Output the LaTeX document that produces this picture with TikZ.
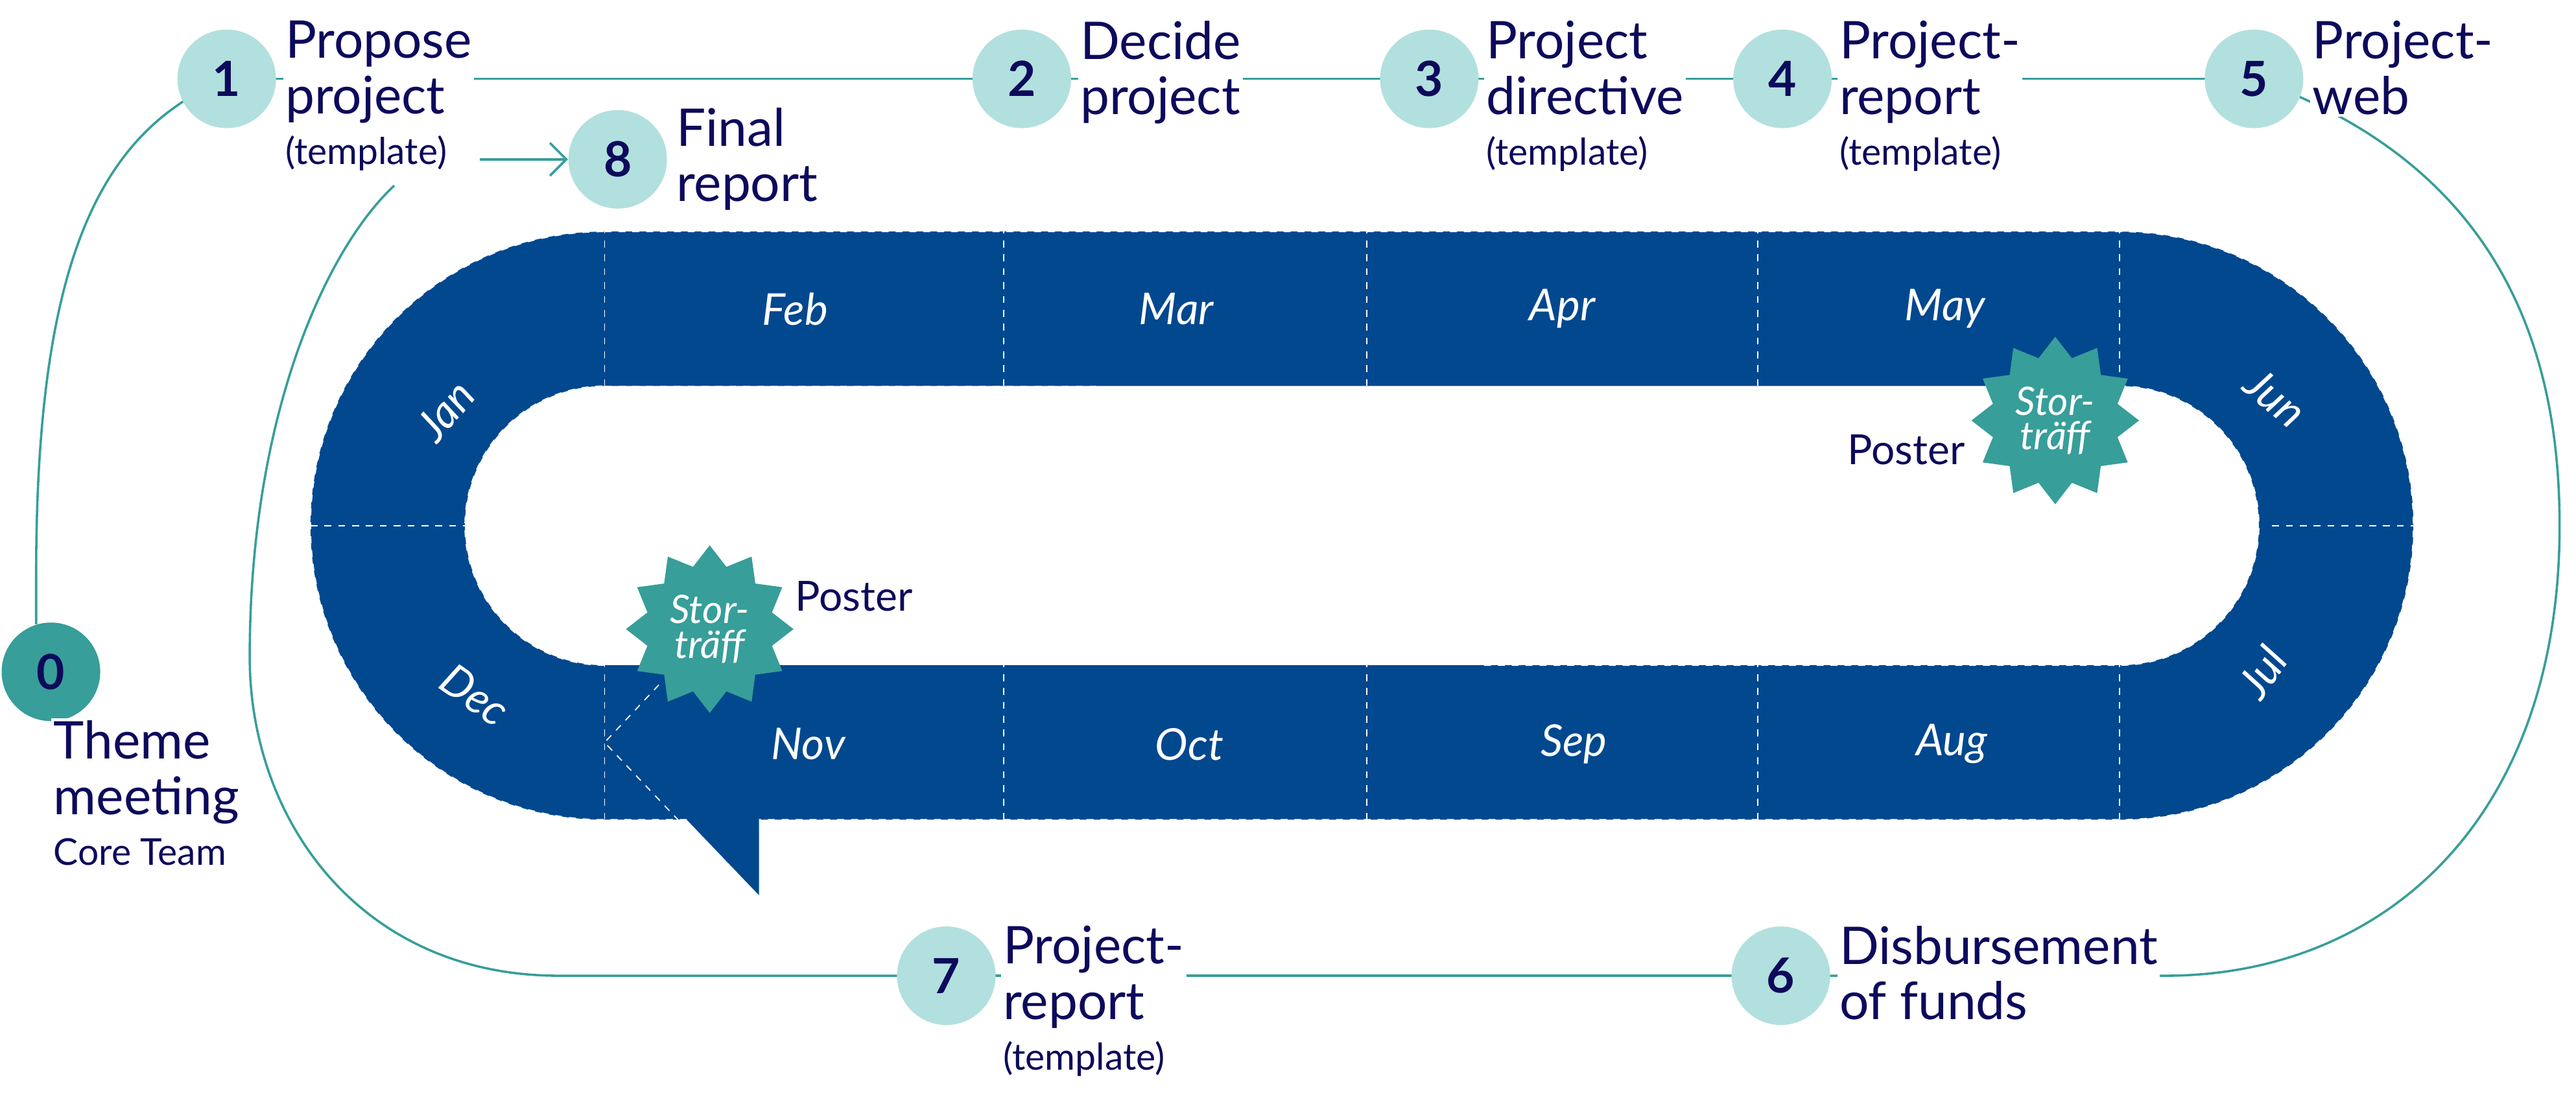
\documentclass[tikz,border=0pt]{standalone}
\usepackage{fontspec}
\setmainfont{Lato}
\usetikzlibrary{shapes.geometric,arrows.meta,backgrounds}
\definecolor{navy}{HTML}{01488F}
\definecolor{ink}{HTML}{0D0A5C}
\definecolor{teal}{HTML}{379E99}
\definecolor{lteal}{HTML}{B2E0DE}
\tikzset{
  stepnode/.style={circle,fill=lteal,minimum size=15mm,inner sep=0pt,text=ink,font=\fontsize{21}{21}\selectfont\bfseries},
  lbl/.style={anchor=north west,align=left,text=ink,fill=white,inner sep=1pt,font=\fontsize{22.5}{24}\selectfont},
  monthlbl/.style={text=white,font=\fontsize{19}{19}\selectfont\itshape},
  divider/.style={white,dashed,line width=0.5pt},
  cycleline/.style={teal,line width=1pt},
  burst/.style={star,star points=12,star point ratio=1.3,minimum size=25.5mm,fill=teal,text=white,align=center,inner sep=0pt,font=\fontsize{17}{17}\selectfont\itshape}
}
\newcommand\tmpl[1]{{\fontsize{16}{18}\selectfont #1}}
\begin{document}
\begin{tikzpicture}[x=0.25mm,y=0.25mm]
\useasboundingbox (0,0) rectangle (1568,680);

% steps
\node[stepnode] (c1) at (138,632) {1};
\node[stepnode] (c2) at (622,632) {2};
\node[stepnode] (c3) at (870,632) {3};
\node[stepnode] (c4) at (1085,632) {4};
\node[stepnode] (c5) at (1372,632) {5};
\node[stepnode] (c8) at (376,583) {8};
\node[stepnode] (c7) at (576,86) {7};
\node[stepnode] (c6) at (1084,86) {6};
\node[stepnode,fill=teal] (c0) at (31,271) {0};

\coordinate (l0) at (22,300);
\coordinate (l8) at (240,567);

% loop
\begin{scope}[on background layer]
\draw[cycleline] (l0) -- (22,330) .. controls (22,520) and (60,600) .. (c1.center);
\draw[cycleline] (c1.center) -- (c2.center) -- (c3.center) -- (c4.center) -- (c5.center);
\draw[cycleline] (c5.center) .. controls (1520,580) and (1558,470) .. (1558,360)
  .. controls (1558,180) and (1450,86) .. (1318,86) -- (c6.center);
\draw[cycleline] (c6.center) -- (c7.center);
\draw[cycleline] (c7.center) -- (340,86) .. controls (220,86) and (152,180) .. (152,280)
  .. controls (152,430) and (200,530) .. (l8);
\end{scope}

% track
\fill[navy,even odd rule] (368,539) -- (1290,539) arc[start angle=90,end angle=-90,radius=179]
  -- (462,181) -- (462,135) -- (418,181) -- (368,181) arc[start angle=270,end angle=90,radius=179] -- cycle
  (368,445) -- (1290,445) arc[start angle=90,end angle=-90,radius=85]
  -- (368,275) arc[start angle=270,end angle=90,radius=85] -- cycle;
\draw[divider] (368,539) -- (1290,539) arc[start angle=90,end angle=-90,radius=179] -- (462,181)
  (418,181) -- (368,181) arc[start angle=270,end angle=90,radius=179];
\draw[divider] (368,445) -- (670,445);
\draw[divider] (368,275) arc[start angle=270,end angle=90,radius=85];
\draw[divider] (1290,445) arc[start angle=90,end angle=-90,radius=85] -- (900,275);
\foreach \x in {368,611,832,1070,1290} {
  \draw[divider] (\x,445) -- (\x,539);
  \draw[divider] (\x,181) -- (\x,275);
}
\draw[divider] (189,360) -- (283,360);
\draw[divider] (1383,360) -- (1469,360);
\draw[divider] (401,263) -- (368,228) -- (425,168);

% months
\foreach \m/\x in {Feb/484,Mar/716,Apr/951,May/1184}
  \node[monthlbl] at (\x,492) {\m};
\foreach \m/\x in {Nov/492,Oct/724,Sep/958,Aug/1188}
  \node[monthlbl] at (\x,227) {\m};
\node[monthlbl,rotate=50] at (271,430) {Jan};
\node[monthlbl,rotate=-35] at (289,257) {Dec};
\node[monthlbl,rotate=-40] at (1385,438) {Jun};
\node[monthlbl,rotate=55] at (1377,271) {Jul};

% meetings
\node[burst] (s1) at (432,297) {Stor-\\[-2pt]träff};
\node[burst] (s2) at (1251,424) {Stor-\\[-2pt]träff};
\node[anchor=west,text=ink,font=\fontsize{18}{18}\selectfont] (p1) at (479,317) {Poster};
\node[anchor=east,text=ink,font=\fontsize{18}{18}\selectfont] (p2) at (1201,406) {Poster};

% labels
\node[lbl] (t1) at (172,669) {Propose\\project\\[-2pt]\tmpl{(template)}};
\node[lbl] (t2) at (656,669) {Decide\\project};
\node[lbl] (t3) at (903,669) {Project\\directive\\[-2pt]\tmpl{(template)}};
\node[lbl] (t4) at (1118,669) {Project-\\report\\[-2pt]\tmpl{(template)}};
\node[lbl] (t5) at (1406,669) {Project-\\web};
\node[lbl] (t8) at (410,616) {Final\\report};
\node[lbl] (t7) at (609,118) {Project-\\report\\[-2pt]\tmpl{(template)}};
\node[lbl] (t6) at (1118,118) {Disbursement\\of funds};
\node[lbl] (t0) at (31,243) {Theme\\meeting\\[-2pt]\tmpl{Core Team}};
\coordinate (a1) at (292,583);
\draw[cycleline,-{Straight Barb[length=2.5mm]}] (a1) -- (c8.west);
\end{tikzpicture}
\end{document}
